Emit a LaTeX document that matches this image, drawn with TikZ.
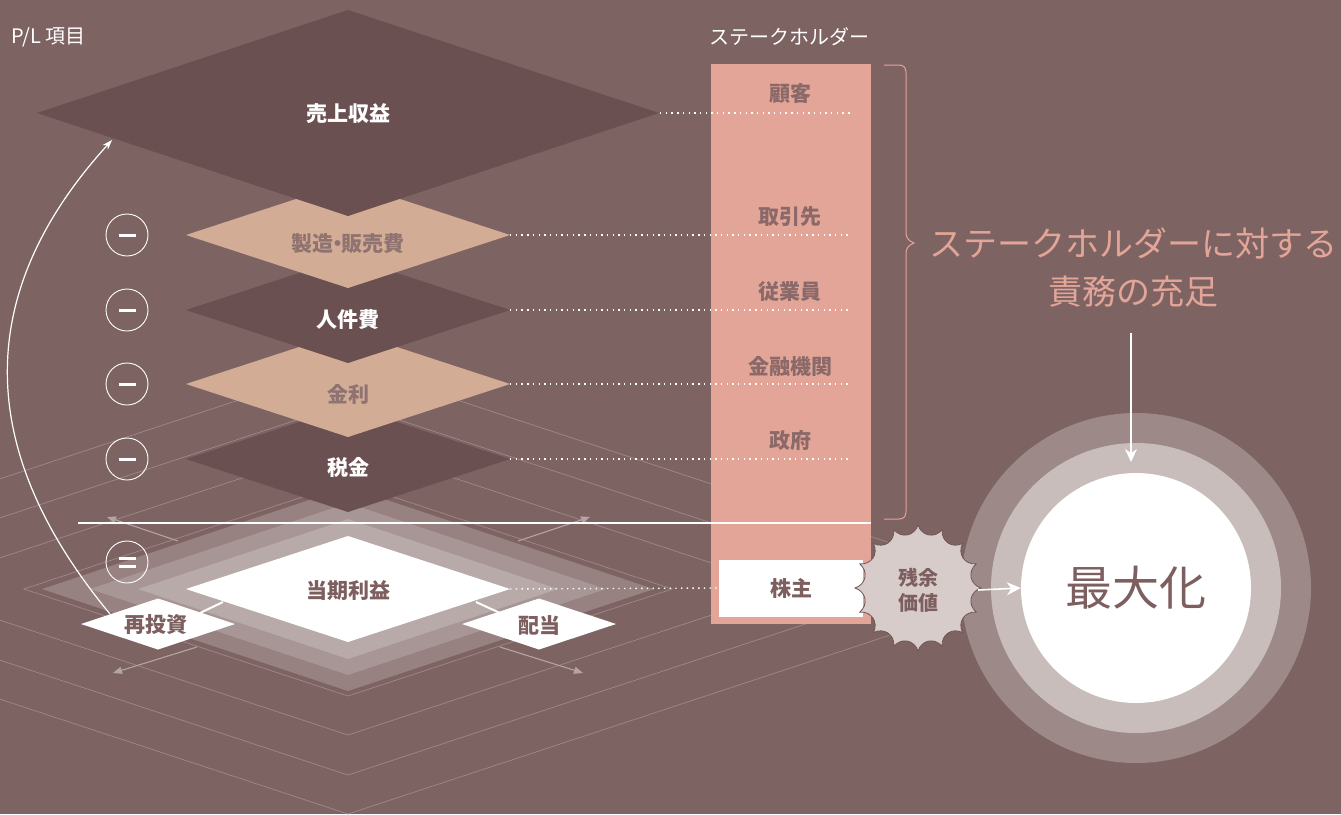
\documentclass[tikz,border=0pt]{standalone}
\usepackage{fontspec}
\setmainfont{Noto Sans CJK JP}
\usetikzlibrary{arrows.meta,calc}
\definecolor{bg}{RGB}{126,99,99}
\definecolor{dk}{RGB}{107,80,82}
\definecolor{tanc}{RGB}{211,172,150}
\definecolor{tantext}{RGB}{143,115,113}
\definecolor{salmon}{RGB}{226,165,151}
\definecolor{lblc}{RGB}{138,105,104}
\definecolor{darktext}{RGB}{125,95,95}
\definecolor{layA}{RGB}{151,129,129}
\definecolor{layB}{RGB}{168,150,150}
\definecolor{layC}{RGB}{185,170,170}
\definecolor{gridc}{RGB}{160,137,137}
\definecolor{ringA}{RGB}{156,137,136}
\definecolor{ringB}{RGB}{200,189,187}
\definecolor{sealc}{RGB}{215,204,201}
\definecolor{seall}{RGB}{110,84,85}
\definecolor{garrow}{RGB}{180,165,165}
\newcommand{\rhomb}[5]{\fill[#5] (#1-#3,#2) -- (#1,#2-#4) -- (#1+#3,#2) -- (#1,#2+#4) -- cycle;}
\begin{document}
\begin{tikzpicture}[x=1pt,y=-1pt,
  dlabel/.style={font=\fontsize{21}{21}\selectfont\bfseries, inner sep=0pt},
  shlabel/.style={font=\fontsize{21}{21}\selectfont\bfseries, text=lblc, inner sep=0pt},
  dotline/.style={white, line width=1.4pt, dash pattern=on 1.4pt off 4.3pt},
  gridline/.style={gridc, line width=0.7pt},
  garrowline/.style={garrow, line width=1.1pt, -{Triangle[length=9pt,width=7pt]}},
  opcirc/.style={circle, draw=white, line width=0.9pt, minimum size=42pt, inner sep=0pt},
  minusop/.style={opcirc, path picture={\draw[white, line width=3pt] ([xshift=-8.5pt]path picture bounding box.center) -- ([xshift=8.5pt]path picture bounding box.center);}},
  equalop/.style={opcirc, path picture={\draw[white, line width=3pt] ([xshift=-8.5pt,yshift=4pt]path picture bounding box.center) -- ([xshift=8.5pt,yshift=4pt]path picture bounding box.center) ([xshift=-8.5pt,yshift=-4pt]path picture bounding box.center) -- ([xshift=8.5pt,yshift=-4pt]path picture bounding box.center);}},
  wline/.style={white, line width=2pt}
]
\useasboundingbox (0,0) rectangle (1341,814);
\fill[bg] (0,0) rectangle (1341,814);

% background grid of nested rhombi
\foreach \h in {107,146,186,225} {
  \draw[gridline] (348-\h/0.33,589) -- (348,589-\h) -- (348+\h/0.33,589) -- (348,589+\h) -- cycle;
}

% layered base
\rhomb{348}{589}{306}{102}{layA}
\rhomb{348}{589}{258}{86}{layB}
\rhomb{348}{589}{210}{70}{layC}

% small grey axis arrows
\coordinate (ga1s) at (178,541); \coordinate (ga1e) at (107,517);
\coordinate (ga2s) at (518,541); \coordinate (ga2e) at (590,517);
\coordinate (ga3s) at (197,647); \coordinate (ga3e) at (113,673);
\coordinate (ga4s) at (500,647); \coordinate (ga4e) at (583,673);
\draw[garrowline] (ga1s) -- (ga1e);
\draw[garrowline] (ga2s) -- (ga2e);
\draw[garrowline] (ga3s) -- (ga3e);
\draw[garrowline] (ga4s) -- (ga4e);

% P/L diamonds (bottom first)
\rhomb{348}{459}{162}{53}{dk}
\rhomb{348}{384}{162}{53}{tanc}
\rhomb{348}{310}{162}{53}{dk}
\rhomb{348}{235}{162}{53}{tanc}
\rhomb{348}{113}{311}{103}{dk}

\node[dlabel, text=white] (uri) at (348,114) {売上収益};
\node[dlabel, text=tantext] (seizo) at (348,244) {製造\kern-0.3em・\kern-0.3em販売費};
\node[dlabel, text=white] (jinken) at (348,320) {人件費};
\node[dlabel, text=tantext] (kinri) at (348,394) {金利};
\node[dlabel, text=white] (zei) at (348,467) {税金};

% stakeholder bar
\node[fill=salmon, minimum width=160pt, minimum height=560pt, inner sep=0pt, anchor=north west] (bar) at (711,64) {};

% separator line
\coordinate (sepL) at (78,523); \coordinate (sepR) at (871,523);
\draw[wline] (sepL) -- (sepR);

% stakeholder labels
\node[shlabel] (kokyaku) at (790,94) {顧客};
\node[shlabel] (torihiki) at (790,217) {取引先};
\node[shlabel] (jugyo) at (790,292) {従業員};
\node[shlabel] (kinyu) at (790,366) {金融機関};
\node[shlabel] (seifu) at (790,441) {政府};

% dotted links
\coordinate (v1) at (660,113); \coordinate (e1) at (851,113);
\coordinate (v2) at (510,235); \coordinate (e2) at (851,235);
\coordinate (v3) at (510,310); \coordinate (e3) at (851,310);
\coordinate (v4) at (510,384); \coordinate (e4) at (851,384);
\coordinate (v5) at (510,459); \coordinate (e5) at (851,459);
\coordinate (v6) at (510,589);
\draw[dotline] (v1) -- (e1);
\draw[dotline] (v2) -- (e2);
\draw[dotline] (v3) -- (e3);
\draw[dotline] (v4) -- (e4);
\draw[dotline] (v5) -- (e5);

% current profit and its split
\rhomb{348}{589}{162}{53}{white}
\rhomb{158}{624}{77}{25.5}{white}
\rhomb{539}{624}{77}{25.5}{white}
\coordinate (c1a) at (200,613); \coordinate (c1b) at (223,602);
\coordinate (c2a) at (476,602); \coordinate (c2b) at (500,613);
\draw[wline] (c1a) -- (c1b);
\draw[wline] (c2a) -- (c2b);
\node[dlabel, text=darktext] (toki) at (348,591) {当期利益};
\node[dlabel, text=darktext] (saito) at (156,625) {再投資};
\node[dlabel, text=darktext] (haito) at (539,626) {配当};

% shareholder box
\node[fill=white, minimum width=144pt, minimum height=57pt, inner sep=0pt, dlabel, text=darktext] (kabu) at (791,588) {株主};
\draw[dotline] (v6) -- (kabu.west);

% operator circles
\node[minusop] (op1) at (127,235) {};
\node[minusop] (op2) at (127,310) {};
\node[minusop] (op3) at (127,384) {};
\node[minusop] (op4) at (127,459) {};
\node[equalop] (op5) at (127,562) {};

% reinvestment curve
\coordinate (rvs) at (110,614); \coordinate (rve) at (112,140);
\draw[white, line width=1.2pt, -{Stealth[length=10pt,width=7pt]}] (rvs) .. controls (-24,452) and (-29,295) .. (rve);

% brace
\draw[salmon, line width=1pt] (884,65) -- (899,65) .. controls (904,65) and (906,68) .. (906,73) -- (906,233) .. controls (906,238) and (909,241) .. (914,243) .. controls (909,245) and (906,248) .. (906,253) -- (906,511) .. controls (906,516) and (904,519) .. (899,519) -- (884,519);

% rings
\fill[ringA] (1136,588) circle[radius=175pt];
\fill[ringB] (1136,588) circle[radius=145pt];
\node[circle, fill=white, minimum size=230pt, inner sep=0pt, text=darktext, font=\fontsize{47}{47}\selectfont] (maxc) at (1136,588) {最大化};

% residual value seal
\begin{scope}[shift={(918,588)}]
\draw[fill=sealc, draw=seall, line width=0.8pt] (0:63) \foreach \i in {1,...,16}{ .. controls ({(\i-1)*22.5+4}:52) and ({\i*22.5-4}:52) .. ({\i*22.5}:63) } -- cycle;
\end{scope}
\node[font=\fontsize{20}{25}\selectfont\bfseries, text=darktext, align=center, inner sep=0pt] (zanyo) at (918,590) {残余\\価値};
\coordinate (sealR) at (978,590);
\draw[white, line width=1.6pt, -{Stealth[length=14pt,width=13pt]}] (sealR) -- (maxc.west);

% headings
\node[anchor=west, text=white, font=\fontsize{20}{20}\selectfont, inner sep=0pt] (pl) at (11,37) {P/L 項目};
\node[text=white, font=\fontsize{20}{20}\selectfont, inner sep=0pt] (sh) at (789,37) {ステークホルダー};

% duty text
\node[text=salmon, font=\fontsize{34}{48}\selectfont, align=center, inner sep=0pt] (duty) at (1133,268) {ステークホルダーに対する\\責務の充足};
\coordinate (dutyB) at (1131,333); \coordinate (ringT) at (1131,462);
\draw[white, line width=1.4pt, -{Stealth[length=13pt,width=12pt]}] (dutyB) -- (ringT);
\end{tikzpicture}
\end{document}
